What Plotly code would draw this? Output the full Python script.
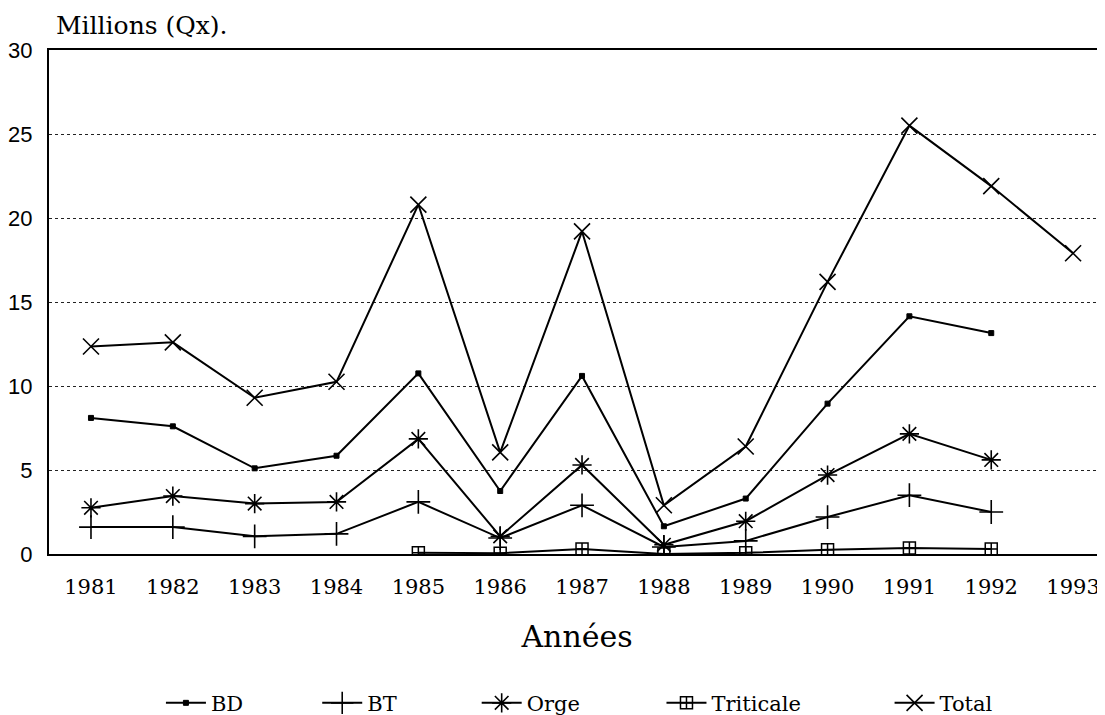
import plotly.graph_objects as go

years = [1981, 1982, 1983, 1984, 1985, 1986, 1987, 1988, 1989, 1990, 1991, 1992, 1993]
bd = [8.1, 7.6, 5.1, 5.85, 10.75, 3.75, 10.6, 1.65, 3.3, 8.95, 14.15, 13.15, None]
bt = [1.6, 1.6, 1.05, 1.2, 3.1, 0.95, 2.9, 0.42, 0.78, 2.2, 3.5, 2.5, None]
orge = [2.75, 3.45, 3.0, 3.1, 6.85, 1.05, 5.3, 0.55, 1.95, 4.7, 7.15, 5.6, None]
triticale = [None, None, None, None, 0.08, 0.05, 0.3, 0.0, 0.07, 0.25, 0.35, 0.3, None]
total = [12.35, 12.6, 9.3, 10.25, 20.8, 6.05, 19.2, 2.9, 6.4, 16.2, 25.5, 21.9, 17.9]

y_ticks = [0, 5, 10, 15, 20, 25, 30]

# name, values, marker symbol, marker size, marker line width, legend id, legend x (paper)
series = [
    ("BD", bd, "square", 5, 1, "legend", 0.106),
    ("BT", bt, "cross-thin-open", 17, 1.6, "legend2", 0.254),
    ("Orge", orge, "asterisk-open", 16, 1.6, "legend3", 0.405),
    ("Triticale", triticale, "square-cross-open", 12, 1.5, "legend4", 0.580),
    ("Total", total, "x-thin-open", 16, 1.6, "legend5", 0.796),
]

fig = go.Figure()
for name, vals, sym, size, lw, leg, lx in series:
    fig.add_trace(go.Scatter(
        x=years, y=vals, name=name, mode="lines+markers",
        line=dict(color="black", width=2),
        marker=dict(symbol=sym, size=size, color="black",
                    line=dict(color="black", width=lw)),
        connectgaps=False, legend=leg,
    ))

legend_font = dict(family="DejaVu Serif", size=21, color="black")
legends = {}
for name, vals, sym, size, lw, leg, lx in series:
    legends[leg] = dict(orientation="h", x=lx, xanchor="left", y=-0.296,
                        yanchor="middle", font=legend_font, itemwidth=40,
                        bgcolor="rgba(0,0,0,0)")

fig.update_layout(
    width=1097, height=707,
    margin=dict(l=41, r=0, t=42, b=161, autoexpand=False),
    paper_bgcolor="white", plot_bgcolor="white",
    font=dict(family="DejaVu Serif", color="black"),
    showlegend=True,
    annotations=[dict(
        text="Millions (Qx).", xref="paper", yref="paper",
        x=0.005, y=1.048, xanchor="left", yanchor="middle", showarrow=False,
        font=dict(family="DejaVu Serif", size=25, color="black"),
    )],
    **legends,
)

fig.update_xaxes(
    range=[1980.487, 1993.39], tickmode="array", tickvals=years,
    ticktext=[str(y) for y in years],
    tickfont=dict(family="DejaVu Serif", size=21, color="black"),
    ticks="", ticklabelstandoff=13,
    showgrid=False, zeroline=False,
    showline=True, linecolor="black", linewidth=2, mirror=True,
    title=dict(text="Années", font=dict(family="DejaVu Serif", size=30, color="black"),
               standoff=28),
)
fig.update_yaxes(
    range=[0, 30], tickmode="array", tickvals=y_ticks,
    tickfont=dict(family="Liberation Sans", size=22, color="black"),
    ticks="", ticklabelstandoff=10,
    showgrid=True, gridcolor="#222", griddash="dot", gridwidth=1,
    zeroline=False,
    showline=True, linecolor="black", linewidth=2, mirror=False,
)

fig.write_html("out.html")
